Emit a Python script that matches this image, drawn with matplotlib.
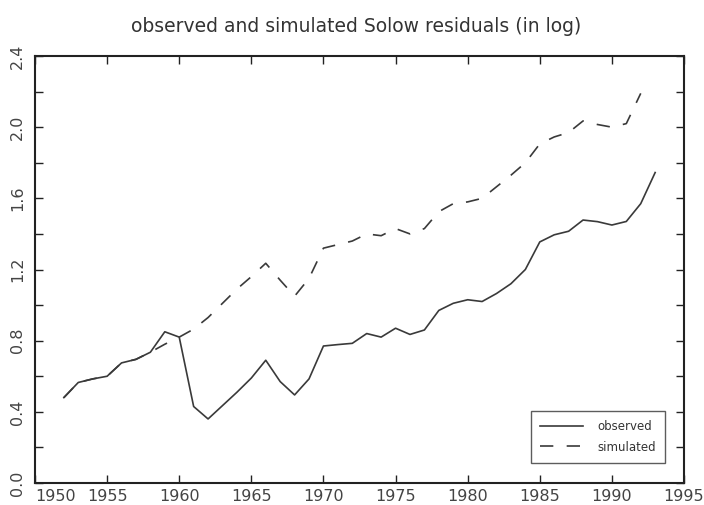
import matplotlib
matplotlib.use("Agg")
import matplotlib.pyplot as plt
import numpy as np

years_obs = list(range(1952, 1994))
observed = [0.48, 0.565, 0.585, 0.60, 0.675, 0.695, 0.735, 0.85, 0.82, 0.43,
            0.36, 0.435, 0.51, 0.59, 0.69, 0.57, 0.495, 0.585, 0.77, 0.778,
            0.785, 0.84, 0.82, 0.87, 0.835, 0.86, 0.97, 1.01, 1.03, 1.02,
            1.065, 1.12, 1.20, 1.355, 1.395, 1.415, 1.478, 1.469, 1.45, 1.47,
            1.57, 1.745]

years_sim = list(range(1952, 1993))
simulated = [0.48, 0.565, 0.585, 0.60, 0.675, 0.695, 0.735, 0.78, 0.82, 0.865,
             0.93, 1.01, 1.09, 1.16, 1.235, 1.14, 1.05, 1.15, 1.32, 1.34,
             1.36, 1.40, 1.39, 1.43, 1.40, 1.43, 1.525, 1.57, 1.58, 1.60,
             1.665, 1.73, 1.80, 1.906, 1.945, 1.97, 2.035, 2.015, 2.0, 2.02,
             2.19]

x_ticks = [1950, 1955, 1960, 1965, 1970, 1975, 1980, 1985, 1990, 1995]
y_ticks = [0.0, 0.4, 0.8, 1.2, 1.6, 2.0, 2.4]
y_minor = [0.2, 0.6, 1.0, 1.4, 1.8, 2.2]

title = "observed and simulated Solow residuals (in log)"

plt.rcParams['font.family'] = ['DejaVu Sans']
fig = plt.figure(figsize=(7.04, 5.05), dpi=100)
ax = fig.add_axes([35/704, 22/505, 649/704, 427/505])

col = '#3a3a3a'
ax.plot(years_obs, observed, color=col, lw=1.2, label='observed')
ax.plot(years_sim, simulated, color=col, lw=1.2, dashes=(8, 8), label='simulated')

ax.set_xlim(1950, 1995)
ax.set_ylim(0, 2.4)
ax.set_xticks(x_ticks)
ax.set_xticklabels([str(t) for t in x_ticks])
ax.set_yticks(y_ticks)
ax.set_yticklabels([f"{t:.1f}" for t in y_ticks])
ax.set_yticks(y_minor, minor=True)

ax.tick_params(axis='both', which='both', direction='in', top=True, right=True,
               colors='#222222', labelcolor='#444444', labelsize=11.5)
ax.tick_params(axis='both', which='major', length=6, width=1)
ax.tick_params(axis='y', which='minor', length=6, width=1)
ax.tick_params(axis='y', labelrotation=90, pad=7)
ax.tick_params(axis='x', pad=4)
for lab in ax.get_yticklabels():
    lab.set_va('center')
labs = ax.get_xticklabels()
labs[0].set_ha('left')

for s in ax.spines.values():
    s.set_linewidth(1.5)
    s.set_color('#222222')

fig.text(356/704, 1 - 27/505, title, ha='center', va='center', fontsize=13.5, color='#333333')

leg = ax.legend(loc='lower right', bbox_to_anchor=((665 - 35) / 649, (483 - 463) / 427),
                fontsize=8.5, frameon=True, fancybox=False, edgecolor='#333333',
                handlelength=3.6, borderpad=0.8, labelspacing=0.6, handletextpad=1.2,
                borderaxespad=0)
leg.get_frame().set_linewidth(1.0)
for t in leg.get_texts():
    t.set_color('#333333')

fig.savefig('out.png', dpi=100)
